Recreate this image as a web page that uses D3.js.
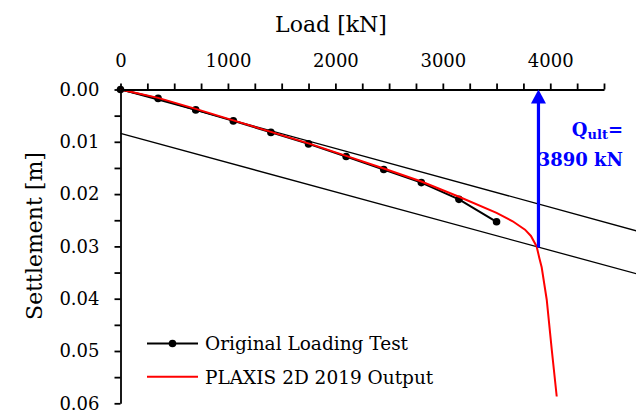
<html>
<head>
  <script src="https://d3js.org/d3.v7.min.js"></script>
  <meta charset="utf-8">
  <title>Load settlement</title>
<style>
body { margin: 0; }
svg { background: #fff; font-family: "DejaVu Serif", serif; }
.axis path, .axis line { stroke: #000; stroke-width: 1.8; }
.axis text { font-size: 18px; fill: #000; font-family: "DejaVu Serif", serif; }
</style>
</head>
<body>
<script>
var width = 636;
var height = 414;

// original loading test (load kN, settlement m)
var testLoad = [0, 350, 700, 1050, 1400, 1750, 2100, 2450, 2800, 3150, 3500];
var testSettle = [0, 0.0017, 0.0039, 0.0060, 0.0082, 0.0104, 0.0128, 0.0153, 0.0178, 0.0210, 0.0253];

// PLAXIS 2D 2019 output
var plaxisLoad = [0, 350, 700, 1050, 1400, 1750, 2100, 2450, 2800, 3150, 3500, 3650, 3765, 3820, 3873, 3898, 3920, 3967, 4014, 4060];
var plaxisSettle = [0, 0.0016, 0.0037, 0.0059, 0.0081, 0.0103, 0.0127, 0.0151, 0.0176, 0.0205, 0.0236, 0.0252, 0.0268, 0.0280, 0.0300, 0.0322, 0.0340, 0.0402, 0.0498, 0.0587];

// elastic line and offset line (end points)
var elasticLoad = [0, 4850];
var elasticSettle = [0, 0.0273];
var offsetLoad = [0, 4850];
var offsetSettle = [0.0084, 0.0355];

var qult = 3890;
var qultSettle = 0.0302;

var xTicks = d3.range(0, 4501, 250);
var yTicks = d3.range(0, 0.0601, 0.005);

var svg = d3.select('body').append('svg')
  .attr('width', width)
  .attr('height', height);

var x = d3.scaleLinear().domain([0, 4500]).range([120.5, 604]);
var y = d3.scaleLinear().domain([0, 0.06]).range([89.5, 403.3]);

function pairs(a, b) {
  return a.map(function (d, i) { return [d, b[i]]; });
}

var line = d3.line()
  .x(function (d) { return x(d[0]); })
  .y(function (d) { return y(d[1]); });

// thin construction lines
[pairs(elasticLoad, elasticSettle), pairs(offsetLoad, offsetSettle)].forEach(function (p) {
  svg.append('path')
    .attr('d', line(p))
    .attr('fill', 'none')
    .attr('stroke', '#000')
    .attr('stroke-width', 1.3);
});

// test curve
svg.append('path')
  .attr('d', line(pairs(testLoad, testSettle)))
  .attr('fill', 'none')
  .attr('stroke', '#000')
  .attr('stroke-width', 2);

svg.selectAll('circle.pt')
  .data(pairs(testLoad, testSettle))
  .enter().append('circle')
  .attr('class', 'pt')
  .attr('cx', function (d) { return x(d[0]); })
  .attr('cy', function (d) { return y(d[1]); })
  .attr('r', 3.8)
  .attr('fill', '#000');

// plaxis curve
svg.append('path')
  .attr('d', line(pairs(plaxisLoad, plaxisSettle)))
  .attr('fill', 'none')
  .attr('stroke', '#ff0000')
  .attr('stroke-width', 2);

// axes
var xAxis = d3.axisTop(x)
  .tickValues(xTicks)
  .tickSize(6)
  .tickSizeOuter(0)
  .tickPadding(17)
  .tickFormat(function (d) { return d % 1000 === 0 ? d : ''; });

svg.append('g')
  .attr('class', 'axis')
  .attr('transform', 'translate(0,' + y(0) + ')')
  .call(xAxis);

var yAxis = d3.axisLeft(y)
  .tickValues(yTicks)
  .tickSize(6)
  .tickSizeOuter(0)
  .tickPadding(15)
  .tickFormat(function (d, i) { return i % 2 === 0 ? d3.format('.2f')(d) : ''; });

svg.append('g')
  .attr('class', 'axis')
  .attr('transform', 'translate(' + x(0) + ',0)')
  .call(yAxis);

// axis titles
svg.append('text')
  .attr('x', 331)
  .attr('y', 32)
  .attr('text-anchor', 'middle')
  .style('font-size', '22px')
  .text('Load [kN]');

svg.append('text')
  .attr('transform', 'translate(42,236) rotate(-90)')
  .attr('text-anchor', 'middle')
  .style('font-size', '22px')
  .text('Settlement [m]');

// Qult arrow
var ax = x(qult);
svg.append('line')
  .attr('x1', ax).attr('x2', ax)
  .attr('y1', y(qultSettle)).attr('y2', y(0) + 10)
  .attr('stroke', '#0000ff')
  .attr('stroke-width', 3.2);
svg.append('path')
  .attr('d', 'M' + ax + ',' + y(0) + 'L' + (ax - 7.5) + ',' + (y(0) + 14) + 'L' + (ax + 7.5) + ',' + (y(0) + 14) + 'Z')
  .attr('fill', '#0000ff');

var q = svg.append('text')
  .attr('x', 623)
  .attr('y', 136)
  .attr('text-anchor', 'end')
  .attr('fill', '#0000ff')
  .style('font-size', '18px')
  .style('font-weight', 'bold');
q.append('tspan').text('Q');
q.append('tspan').attr('dy', 3).style('font-size', '13px').text('ult');
q.append('tspan').attr('dy', -3).text('=');

svg.append('text')
  .attr('x', 623)
  .attr('y', 166)
  .attr('text-anchor', 'end')
  .attr('fill', '#0000ff')
  .style('font-size', '18px')
  .style('font-weight', 'bold')
  .text(qult + ' kN');

// legend
var legend = svg.append('g');
legend.append('line')
  .attr('x1', 147).attr('x2', 198).attr('y1', 343.5).attr('y2', 343.5)
  .attr('stroke', '#000').attr('stroke-width', 2);
legend.append('circle')
  .attr('cx', 172.5).attr('cy', 343.5).attr('r', 3.8).attr('fill', '#000');
legend.append('text')
  .attr('x', 205).attr('y', 350)
  .style('font-size', '18.5px')
  .text('Original Loading Test');
legend.append('line')
  .attr('x1', 147).attr('x2', 198).attr('y1', 376.7).attr('y2', 376.7)
  .attr('stroke', '#ff0000').attr('stroke-width', 2);
legend.append('text')
  .attr('x', 205).attr('y', 383.5)
  .style('font-size', '18.5px')
  .text('PLAXIS 2D 2019 Output');
</script>
</body>
</html>
